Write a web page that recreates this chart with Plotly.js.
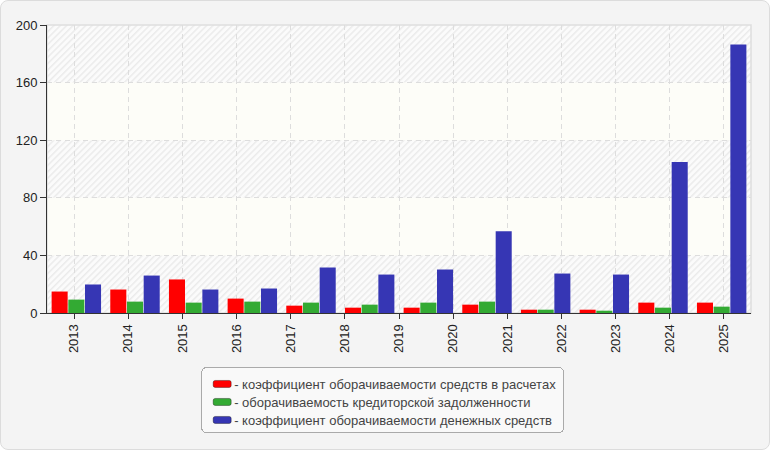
<!DOCTYPE html>
<html>
<head>
<meta charset="utf-8">
<script src="https://cdn.plot.ly/plotly-3.0.1.min.js"></script>
<style>
  html, body { margin: 0; padding: 0; background: #ffffff; }
  #wrap {
    width: 768px; height: 448px;
    border: 1px solid #dcdcdc; border-radius: 8px;
    background: #f4f4f4; overflow: hidden;
  }
  #chart { width: 768px; height: 448px; }
</style>
</head>
<body>
<div id="wrap"><div id="chart"></div></div>
<script>
// tick labels (13 of them, as in the original picture)
const years = ['2013', '2014', '2015', '2016', '2017', '2018', '2019',
               '2020', '2021', '2022', '2023', '2024', '2025'];

// 12 groups of bars
const receivables = [14.9, 16.3, 23.3, 10.0, 5.1, 3.7, 3.7, 5.8, 2.3, 2.3, 7.2, 7.2];
const payables    = [9.3, 7.9, 7.2, 7.9, 7.2, 5.8, 7.2, 7.9, 2.3, 1.6, 3.7, 4.4];
const cash        = [19.8, 26.0, 16.3, 17.0, 31.6, 26.7, 30.2, 56.7, 27.4, 26.7, 104.9, 186.5];

const names = [
  '- коэффициент оборачиваемости средств в расчетах',
  '- оборачиваемость кредиторской задолженности',
  '- коэффициент оборачиваемости денежных средств'
];
const colors = ['#ff0000', '#33aa33', '#3636b4'];

const yTicks = [0, 40, 80, 120, 160, 200];

window.onload = () => {
  const idx = receivables.map((v, i) => i);
  const n = idx.length;

  // the 13 labels are spread evenly over the same width as the 12 groups
  const tickPos = years.map((y, i) => (i + 0.5) * n / years.length - 0.5);

  const series = [receivables, payables, cash];
  const data = series.map((s, k) => ({
    x: idx,
    y: s,
    type: 'bar',
    name: names[k],
    marker: {color: colors[k], line: {width: 0}},
    hoverinfo: 'y'
  }));

  // hatched background
  const hatch =
    '<svg xmlns="http://www.w3.org/2000/svg" width="704" height="288">' +
    '<defs><pattern id="h" width="4.5" height="4.5" patternUnits="userSpaceOnUse" patternTransform="rotate(45)">' +
    '<rect width="4.5" height="4.5" fill="#fbfbfb"/>' +
    '<rect width="1.5" height="4.5" fill="#ebebeb"/></pattern></defs>' +
    '<rect width="704" height="288" fill="url(#h)"/></svg>';

  const bands = [];
  for (let i = 1; i < yTicks.length - 1; i += 2) {
    bands.push({
      type: 'rect', xref: 'paper', yref: 'y', layer: 'below',
      x0: 0, x1: 1, y0: yTicks[i], y1: yTicks[i + 1],
      fillcolor: '#fdfdf8', line: {width: 0}
    });
  }
  bands.push({
    type: 'rect', xref: 'paper', yref: 'paper', layer: 'below',
    x0: 0, x1: 1, y0: 0, y1: 1,
    line: {color: '#dedede', width: 1.5}
  });

  const layout = {
    width: 768,
    height: 448,
    paper_bgcolor: 'rgba(0,0,0,0)',
    plot_bgcolor: '#f7f7f7',
    font: {family: 'Liberation Sans, Arial, sans-serif', size: 12, color: '#222'},
    margin: {l: 46, r: 18, t: 24, b: 136, autoexpand: false},
    bargap: 0.146,
    bargroupgap: 0.04,
    showlegend: true,
    xaxis: {
      type: 'linear',
      range: [-0.5, n - 0.5],
      tickvals: tickPos,
      ticktext: years,
      tickangle: -90,
      ticks: 'outside',
      ticklen: 5,
      tickcolor: '#333',
      showline: true,
      linecolor: '#333',
      linewidth: 1,
      showgrid: true,
      gridcolor: '#dddddd',
      griddash: '5px,4px',
      zeroline: false,
      fixedrange: true,
      automargin: false,
      tickfont: {size: 13, color: '#222'}
    },
    yaxis: {
      range: [0, 200],
      tickvals: yTicks,
      ticks: 'outside',
      ticklen: 6,
      tickcolor: '#333',
      showline: true,
      linecolor: '#333',
      linewidth: 1,
      showgrid: true,
      gridcolor: '#dddddd',
      griddash: '5px,4px',
      zeroline: false,
      fixedrange: true,
      automargin: false,
      tickfont: {size: 13, color: '#222'}
    },
    legend: {
      x: 0.219, xanchor: 'left',
      y: -0.1875, yanchor: 'top',
      bgcolor: '#f9f9f9',
      bordercolor: '#aaaaaa',
      borderwidth: 1,
      font: {size: 13, color: '#444'},
      tracegroupgap: 0
    },
    shapes: bands,
    images: [{
      source: 'data:image/svg+xml;charset=utf-8,' + encodeURIComponent(hatch),
      xref: 'paper', yref: 'paper',
      x: 0, y: 1, sizex: 1, sizey: 1,
      xanchor: 'left', yanchor: 'top',
      sizing: 'stretch', layer: 'below'
    }]
  };

  Plotly.newPlot('chart', data, layout, {displayModeBar: false, staticPlot: true}).then(gd => {
    // wide rounded swatches, text closer to them, tighter rows, rounded box
    gd.querySelectorAll('.legend .legendpoints path').forEach(p => {
      p.setAttribute('d', 'M-7,-3.5h14a2,2 0 0 1 2,2v3a2,2 0 0 1 -2,2h-14a2,2 0 0 1 -2,-2v-3a2,2 0 0 1 2,-2z');
      p.style.stroke = 'rgba(0,0,0,0.35)';
      p.style.strokeWidth = '1px';
    });
    gd.querySelectorAll('.legend .legendtext').forEach(t => {
      t.setAttribute('x', 32);
    });
    const rows = gd.querySelectorAll('.legend g.traces');
    let shrink = 0;
    if (rows.length > 1) {
      const pos = Array.from(rows).map(r => {
        const m = /translate\(\s*([-\d.]+)[ ,]+([-\d.]+)/.exec(r.getAttribute('transform') || '');
        return m ? [parseFloat(m[1]), parseFloat(m[2])] : null;
      });
      if (pos.every(p => p)) {
        const step = 18;
        const oldStep = (pos[pos.length - 1][1] - pos[0][1]) / (pos.length - 1);
        pos.forEach((p, i) => {
          rows[i].setAttribute('transform', 'translate(' + p[0] + ',' + (pos[0][1] + i * step + 1) + ')');
        });
        shrink = (oldStep - step) * (pos.length - 1) + 2;
      }
    }
    const bg = gd.querySelector('.legend rect.bg');
    if (bg) {
      bg.setAttribute('width', parseFloat(bg.getAttribute('width')) - 6);
      bg.setAttribute('height', parseFloat(bg.getAttribute('height')) - shrink);
      bg.setAttribute('rx', 5);
      bg.setAttribute('ry', 5);
    }
  });
};
</script>
</body>
</html>
